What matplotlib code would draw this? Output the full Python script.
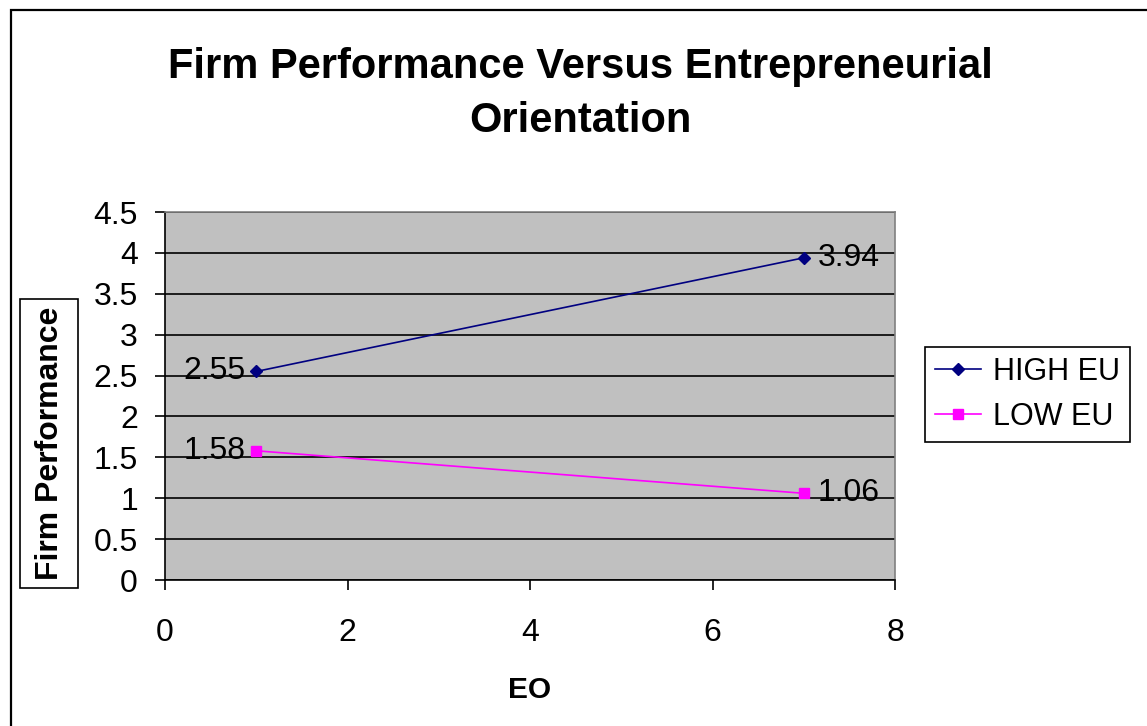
import matplotlib
matplotlib.use("Agg")
import matplotlib.pyplot as plt
from matplotlib.patches import Rectangle

plt.rcParams['font.family'] = ['Liberation Sans', 'DejaVu Sans']

# Data
eo = [1, 7]
high_eu = [2.55, 3.94]
low_eu = [1.58, 1.06]
series_names = ["HIGH EU", "LOW EU"]
x_ticks = [0, 2, 4, 6, 8]
y_ticks = [0, 0.5, 1, 1.5, 2, 2.5, 3, 3.5, 4, 4.5]

W, H = 1147, 726
fig = plt.figure(figsize=(W / 100, H / 100), dpi=100)
fig.patch.set_facecolor('white')


def px_rect(x0, y0, x1, y1, **kw):
    """Rectangle given in pixel coordinates measured from the top-left corner."""
    return Rectangle((x0 / W, 1 - y1 / H), (x1 - x0) / W, (y1 - y0) / H,
                     transform=fig.transFigure, **kw)


# outer chart border
fig.add_artist(px_rect(11, 10, 1200, 760, fill=False, edgecolor='black', linewidth=1.6))

L, R, T, B = 165, 895, 212, 580
ax = fig.add_axes([L / W, 1 - B / H, (R - L) / W, (B - T) / H])
ax.set_facecolor('#C0C0C0')
ax.set_xlim(0, 8)
ax.set_ylim(0, 4.5)
ax.set_xticks(x_ticks)
ax.set_yticks(y_ticks)
ax.set_xticklabels([f"{v:g}" for v in x_ticks])
ax.set_yticklabels([f"{v:g}" for v in y_ticks])
ax.yaxis.grid(True, color='black', linewidth=1.2)
ax.set_axisbelow(True)
for s in ['top', 'right']:
    ax.spines[s].set_color('#808080')
    ax.spines[s].set_linewidth(1.2)
for s in ['left', 'bottom']:
    ax.spines[s].set_color('black')
    ax.spines[s].set_linewidth(1.2)
ax.tick_params(axis='both', direction='out', length=7.5, width=1.2, labelsize=23, colors='black')
ax.tick_params(axis='y', pad=12)
ax.tick_params(axis='x', pad=20)

ax.plot(eo, high_eu, color='#000080', marker='D', markersize=6, linewidth=1.2, label=series_names[0])
ax.plot(eo, low_eu, color='#FF00FF', marker='s', markersize=7, linewidth=1.2, label=series_names[1])


def label_points(xs, ys):
    for x, y in zip(xs, ys):
        if x == xs[0]:
            ax.annotate(f"{y:.2f}", (x, y), xytext=(-11, 0), textcoords='offset pixels',
                        ha='right', va='center', fontsize=23)
        else:
            ax.annotate(f"{y:.2f}", (x, y), xytext=(14, 0), textcoords='offset pixels',
                        ha='left', va='center', fontsize=23)


label_points(eo, high_eu)
label_points(eo, low_eu)

# title
fig.text(580 / W, 1 - 94 / H, "Firm Performance Versus Entrepreneurial\nOrientation",
         ha='center', va='center', fontsize=30, fontweight='bold', linespacing=1.42)

# axis titles
fig.text(530 / W, 1 - 690 / H, "EO", ha='center', va='center', fontsize=21.5, fontweight='bold')
fig.add_artist(px_rect(20, 299, 78, 588, facecolor='white', edgecolor='black', linewidth=1.2))
fig.text(50 / W, 1 - 443 / H, "Firm Performance", ha='center', va='center', rotation=90,
         fontsize=23, fontweight='bold')

leg = fig.legend(loc='upper left', bbox_to_anchor=(925 / W, 1 - 347 / H), fontsize=22,
                 frameon=True, fancybox=False, edgecolor='black', framealpha=1,
                 borderaxespad=0, handlelength=1.5, handletextpad=0.4, labelspacing=0.5,
                 borderpad=0.32)
leg.get_frame().set_linewidth(1.2)

fig.savefig('out.png', dpi=100)
